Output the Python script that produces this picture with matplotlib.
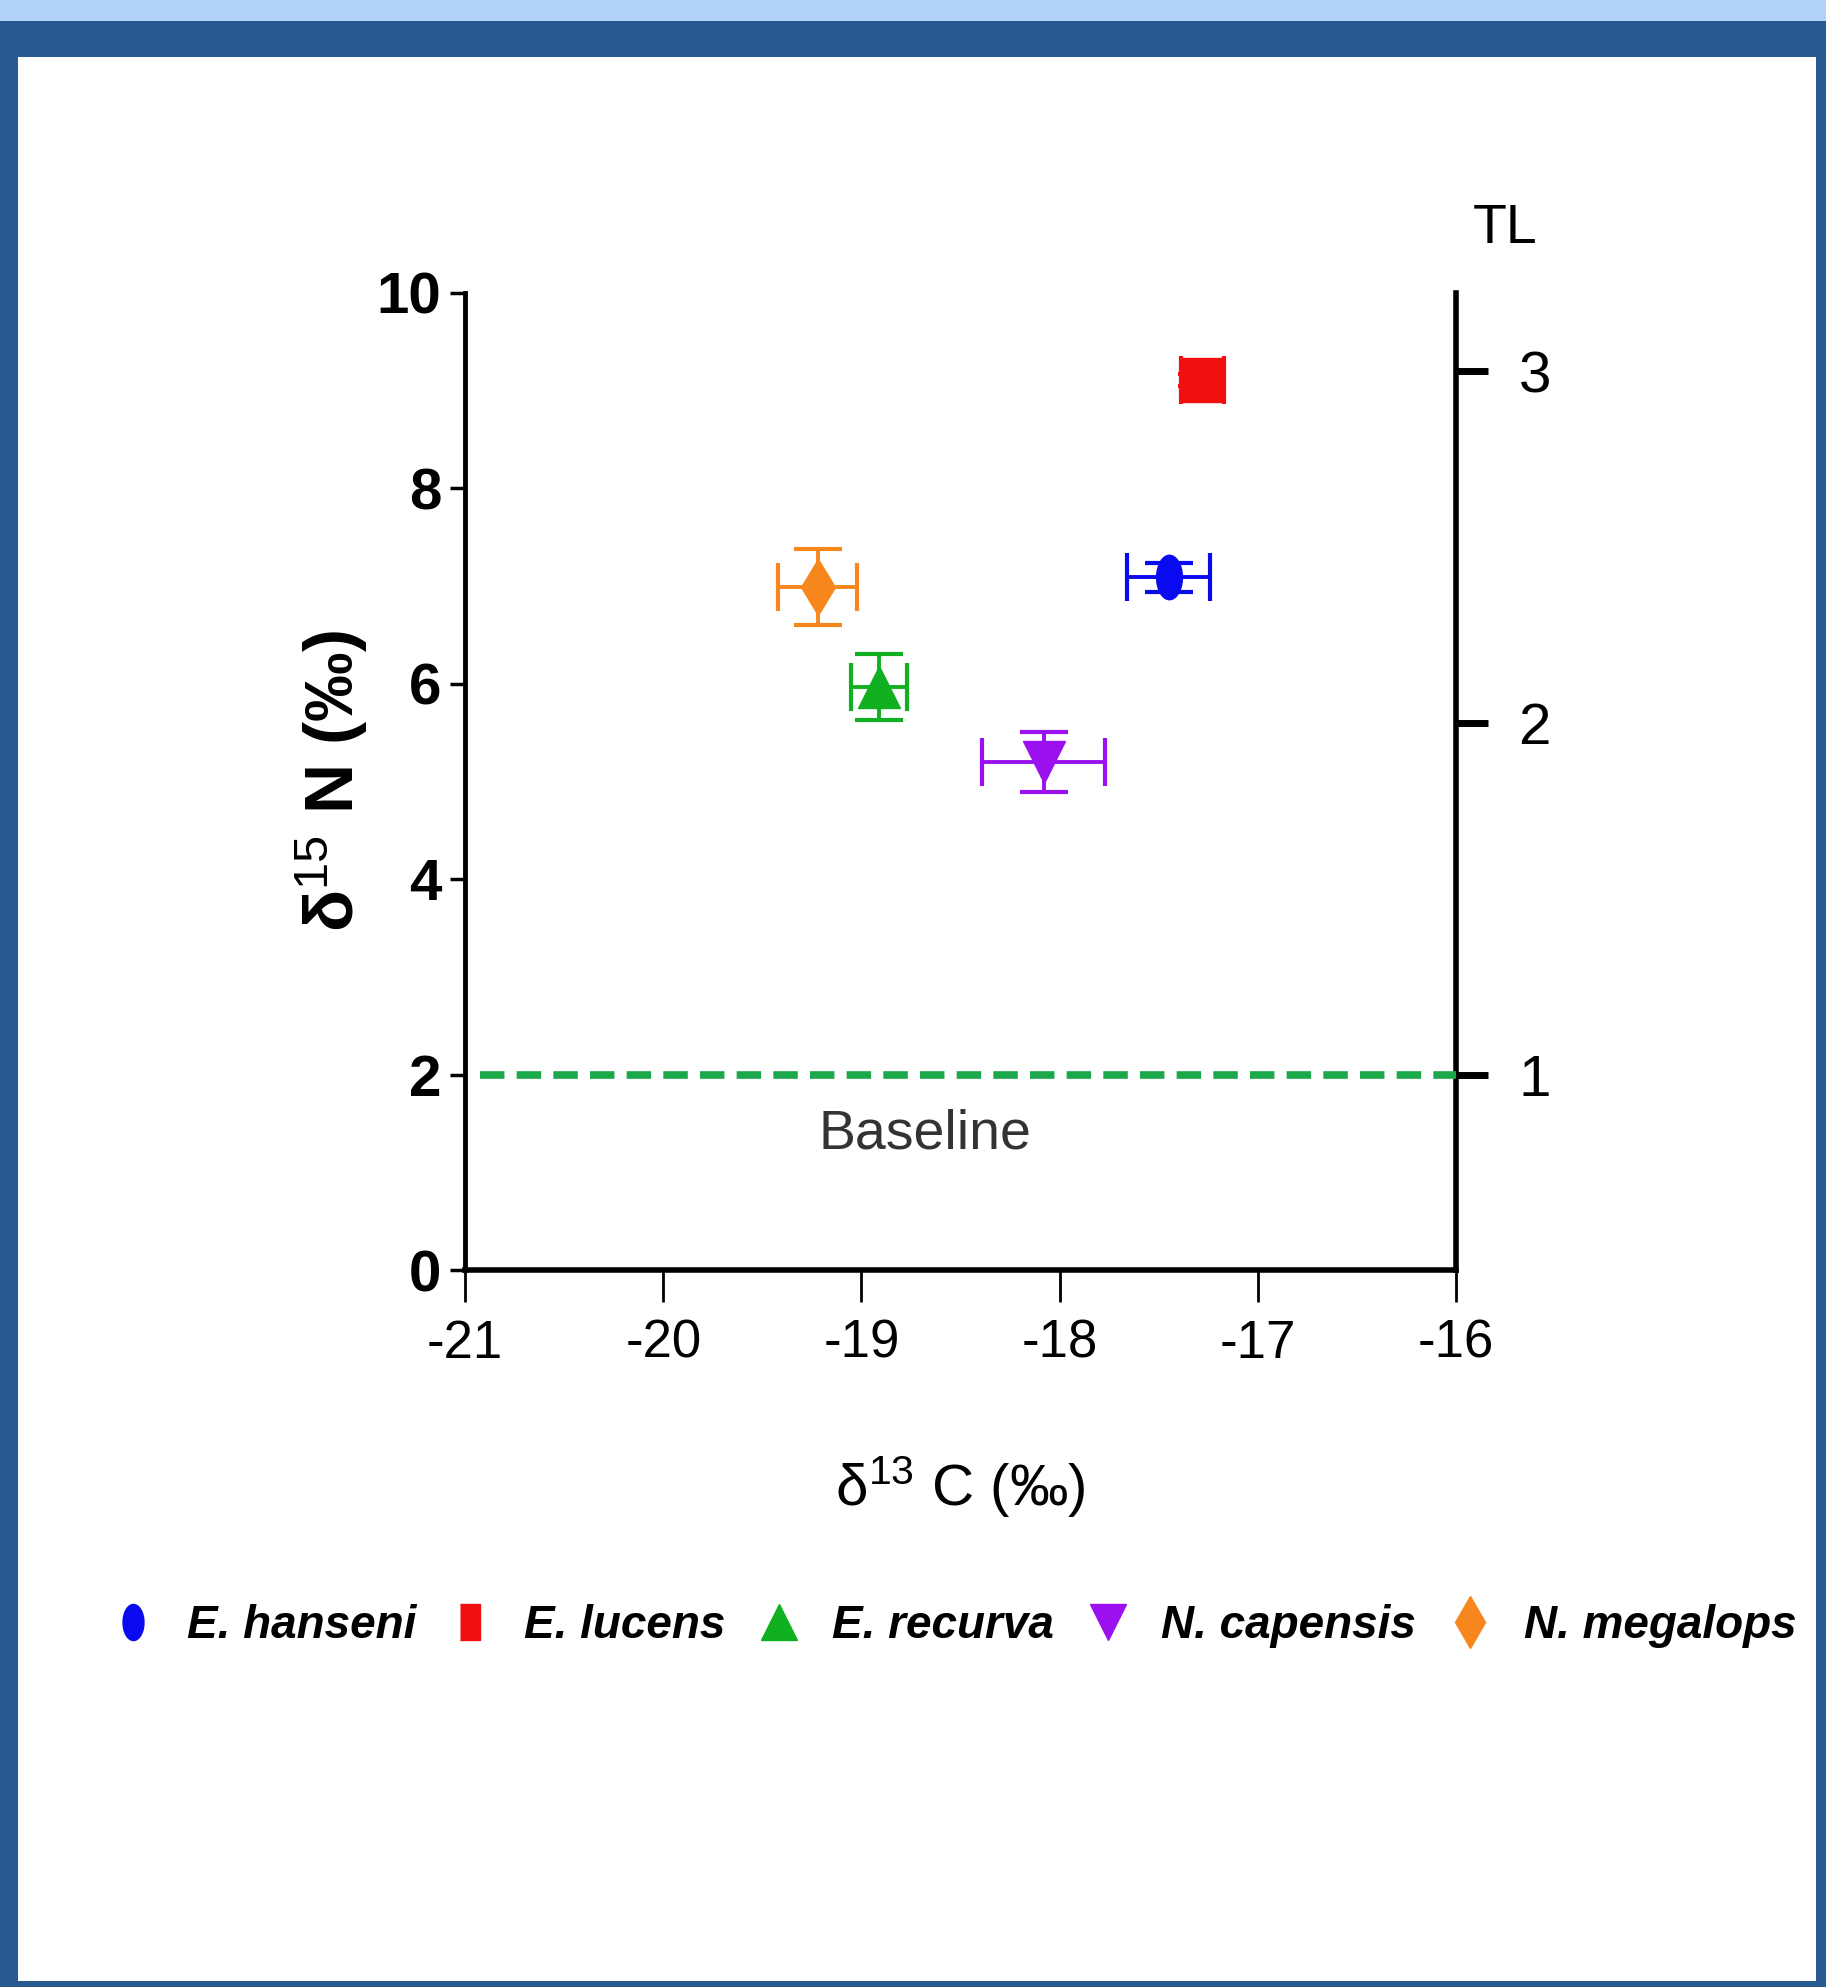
import matplotlib
matplotlib.use("Agg")
import matplotlib.pyplot as plt
import numpy as np
from matplotlib.patches import Rectangle
from matplotlib.lines import Line2D

SANS = ["Liberation Sans", "DejaVu Sans"]
plt.rcParams.update({
    "font.family": SANS,
    "mathtext.fontset": "custom",
    "mathtext.rm": "Liberation Sans",
    "mathtext.it": "Liberation Sans:italic",
    "mathtext.bf": "Liberation Sans:bold",
})

# data
species = ["E. hanseni", "E. lucens", "E. recurva", "N. capensis", "N. megalops"]
d13c = [-17.45, -17.28, -18.91, -18.08, -19.22]
d15n = [7.09, 9.11, 5.97, 5.20, 6.99]
c_err = [0.21, 0.11, 0.14, 0.31, 0.20]
n_err = [0.15, 0.06, 0.34, 0.31, 0.39]
baseline_n = 2.0
tl_ticks = [1, 2, 3]

t = np.linspace(0, 2 * np.pi, 40)
ELLIPSE = list(zip(0.58 * np.cos(t), np.sin(t)))
TALLRECT = [(-0.55, -1), (0.55, -1), (0.55, 1), (-0.55, 1)]
COLORS = ["#0a0af0", "#f01010", "#10b020", "#9a10ee", "#f7861c"]
MARKERS = [ELLIPSE, "s", "^", "v", "d"]
MSIZE = [32, 32, 30, 30, 29]
LEG_MARKERS = [ELLIPSE, TALLRECT, "^", "v", "d"]

W, H = 1826, 1987
fig = plt.figure(figsize=(W / 100, H / 100), dpi=100)
fig.patch.set_facecolor("#285A8F")
fig.add_artist(Rectangle((0, 1 - 21 / H), 1, 21 / H, transform=fig.transFigure,
                         facecolor="#B0D3F7", edgecolor="none", zorder=0))
fig.add_artist(Rectangle((18 / W, 1 - 1981 / H), (1816 - 18) / W, (1981 - 57) / H,
                         transform=fig.transFigure, facecolor="white",
                         edgecolor="none", zorder=0))

ax = fig.add_axes([465 / W, 1 - 1270 / H, (1456 - 465) / W, (1270 - 293) / H])
ax.patch.set_alpha(0)
ax.set_xlim(-21, -16)
ax.set_ylim(0, 10)
ax.spines[["top", "right"]].set_visible(False)
ax.spines["left"].set_linewidth(3.5)
ax.spines["bottom"].set_linewidth(4)

for x, y, xe, ye, c, m, ms in zip(d13c, d15n, c_err, n_err, COLORS, MARKERS, MSIZE):
    ax.errorbar(x, y, xerr=xe, yerr=ye, fmt="none", ecolor=c, elinewidth=2.8,
                capsize=17, capthick=3, zorder=3)
    ax.plot(x, y, marker=m, ms=ms, color=c, ls="none", zorder=4)

ax.axhline(baseline_n, xmin=0.015, xmax=1.0, color="#1ba84a", lw=5.5,
           dashes=(3.2, 1.6), zorder=2)
ax.text(-18.68, 1.39, "Baseline", ha="center", va="center", fontsize=40,
        color="#333333")

ax.set_xticks(np.arange(-21, -15, 1))
ax.set_yticks(np.arange(0, 11, 2))
ax.set_xticklabels([f"-{abs(v)}" for v in range(-21, -15)])
ax.tick_params(axis="x", length=23, width=2, pad=12, labelsize=38)
ax.tick_params(axis="y", length=11, width=2.5, pad=6, labelsize=42)
for lab in ax.get_yticklabels():
    lab.set_fontweight("bold")

ax.set_xlabel("δ$^{13}$ C (‰)", fontsize=42)
ax.xaxis.set_label_coords(0.5, -0.222)
ax.xaxis.label.set_va("center")
ax.set_ylabel("δ$^{15}$ N (‰)", fontsize=50, fontweight="bold")
ax.yaxis.set_label_coords(-0.134, 0.5)
ax.yaxis.label.set_va("center")

# trophic level axis on the right
sec = ax.secondary_yaxis("right", functions=(lambda n: 1 + (n - 2) / 3.6,
                                             lambda tl: 2 + (tl - 1) * 3.6))
sec.set_yticks(tl_ticks)
sec.spines["right"].set_linewidth(4)
sec.tick_params(length=23, width=5, pad=22, labelsize=42)
ax.text(1.05, 1.066, "TL", transform=ax.transAxes, ha="center", va="center",
        fontsize=40)

handles = [Line2D([], [], marker=m, color=c, ls="none", ms=26)
           for m, c in zip(LEG_MARKERS, COLORS)]
fig.legend(handles, species, loc="center left",
           bbox_to_anchor=(122 / W, 1 - 1626 / H), ncol=5, frameon=False,
           prop={"family": SANS, "weight": "bold", "style": "italic", "size": 33},
           handlelength=0.5, handletextpad=0.92, columnspacing=0.92,
           borderpad=0, borderaxespad=0)

fig.savefig("out.png", dpi=100, facecolor=fig.get_facecolor())
